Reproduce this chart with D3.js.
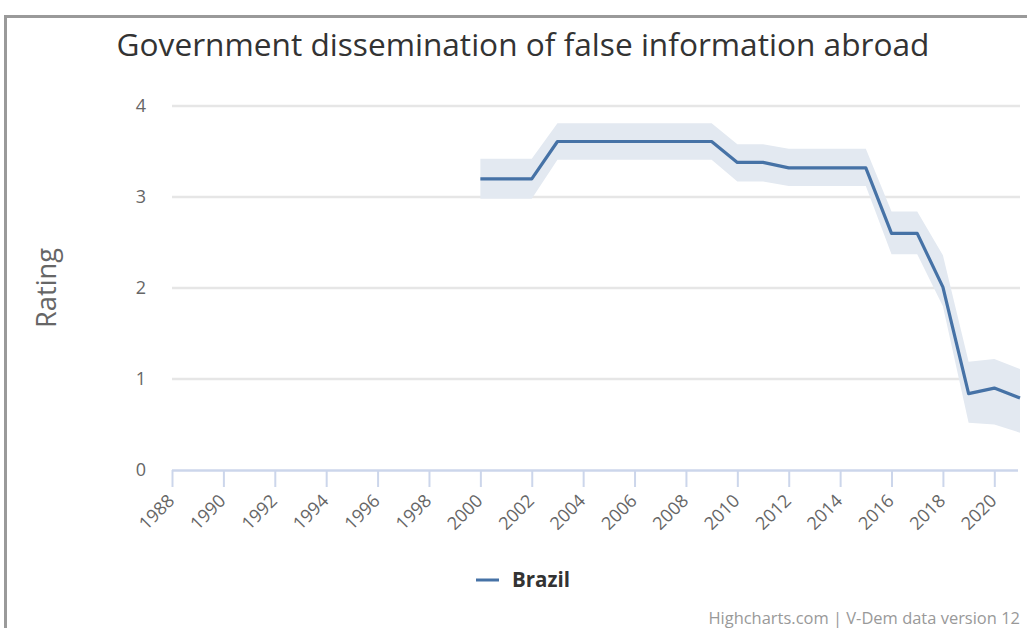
<!DOCTYPE html>
<html><head><meta charset="utf-8">
<script src="https://cdn.jsdelivr.net/npm/d3@7"></script>
<style>
html,body{margin:0;padding:0;background:#fff;}
svg{display:block;}
</style></head>
<body>
<svg id="chart" width="1027" height="628"></svg>
<script>
const years = [2000,2001,2002,2003,2004,2005,2006,2007,2008,2009,2010,2011,2012,2013,2014,2015,2016,2017,2018,2019,2020,2021];
const brazil = [3.2,3.2,3.2,3.61,3.61,3.61,3.61,3.61,3.61,3.61,3.38,3.38,3.32,3.32,3.32,3.32,2.6,2.6,2.01,0.84,0.9,0.79];
const upper  = [3.42,3.42,3.42,3.81,3.81,3.81,3.81,3.81,3.81,3.81,3.58,3.58,3.53,3.53,3.53,3.53,2.84,2.84,2.36,1.19,1.22,1.11];
const lower  = [2.98,2.98,2.98,3.41,3.41,3.41,3.41,3.41,3.41,3.41,3.17,3.17,3.12,3.12,3.12,3.12,2.37,2.37,1.8,0.52,0.5,0.41];
const xTicks = [1988,1990,1992,1994,1996,1998,2000,2002,2004,2006,2008,2010,2012,2014,2016,2018,2020];
const yTicks = [0,1,2,3,4];
const title = "Government dissemination of false information abroad";
const yTitle = "Rating";
const seriesName = "Brazil";
const credits = "Highcharts.com | V-Dem data version 12";

const svg = d3.select("#chart");
const font = "'Open Sans', 'DejaVu Sans', sans-serif";
const pLeft = 172, pRight = 1020, pTop = 106, pBottom = 470;

const x = d3.scaleLinear().domain([1988, 2021]).range([pLeft, pRight]);
const y = d3.scaleLinear().domain([0, 4]).range([pBottom, pTop]);

function fitWidth(sel, base, target) {
  const w = sel.node().getComputedTextLength();
  sel.attr("font-size", base * target / w);
}

// outer frame
svg.append("path").attr("d", `M5.5,1028 L5.5,16.5 L1030,16.5`)
  .attr("fill","none").attr("stroke","#9a9a9a").attr("stroke-width",3);

// title
const t = svg.append("text").attr("x", 523).attr("y", 56).attr("text-anchor","middle")
  .attr("font-family", font).attr("font-size", 28).attr("fill","#333").text(title);
fitWidth(t, 28, 813);

// gridlines
svg.append("g").selectAll("line").data(yTicks.filter(d=>d>0)).join("line")
  .attr("x1", pLeft).attr("x2", pRight).attr("y1", d=>y(d)).attr("y2", d=>y(d))
  .attr("stroke","#e6e6e6").attr("stroke-width",2.5);

// y tick labels
svg.append("g").selectAll("text").data(yTicks).join("text")
  .attr("x", 146).attr("y", d=>y(d)+6).attr("text-anchor","end")
  .attr("font-family", font).attr("font-size", 18).attr("fill","#666").text(d=>d);

// y title
const yt = svg.append("text").attr("transform", `translate(56,288) rotate(-90)`).attr("text-anchor","middle")
  .attr("font-family", font).attr("font-size", 26).attr("fill","#666").text(yTitle);
fitWidth(yt, 26, 80);

// x axis
const xAxis = d3.axisBottom(x).tickValues(xTicks).tickSize(17).tickFormat(d3.format("d"));
const gx = svg.append("g").attr("transform", `translate(0,${pBottom})`).call(xAxis);
gx.select(".domain").attr("stroke","#ccd6eb").attr("stroke-width",2.5).attr("d", `M${pLeft},0.5H${pRight-2}`);
gx.selectAll(".tick line").attr("stroke","#ccd6eb").attr("stroke-width",2);
gx.selectAll(".tick text").attr("font-family", font).attr("font-size", 18).attr("fill","#666")
  .attr("text-anchor","end").attr("dy", null).attr("y", 0)
  .attr("transform", "translate(3,32) rotate(-45)");

// band
const idx = d3.range(years.length);
const area = d3.area().x(i=>x(years[i])).y0(i=>y(lower[i])).y1(i=>y(upper[i]));
svg.append("path").datum(idx).attr("d", area).attr("fill","#e3e9f1");

// line
const line = d3.line().x(i=>x(years[i])).y(i=>y(brazil[i]));
svg.append("path").datum(idx).attr("d", line).attr("fill","none")
  .attr("stroke","#4672a6").attr("stroke-width",3.2).attr("stroke-linejoin","round");

// legend
svg.append("line").attr("x1",476).attr("x2",499).attr("y1",580).attr("y2",580)
  .attr("stroke","#4672a6").attr("stroke-width",3);
const lg = svg.append("text").attr("x",512).attr("y",587).attr("font-family", font).attr("font-weight","bold")
  .attr("font-size",18).attr("fill","#333").text(seriesName);
fitWidth(lg, 18, 58);

// credits
const cr = svg.append("text").attr("x",1020).attr("y",624).attr("text-anchor","end").attr("font-family", font)
  .attr("font-size",15).attr("fill","#999").text(credits);
fitWidth(cr, 15, 312);
</script>
</body></html>
